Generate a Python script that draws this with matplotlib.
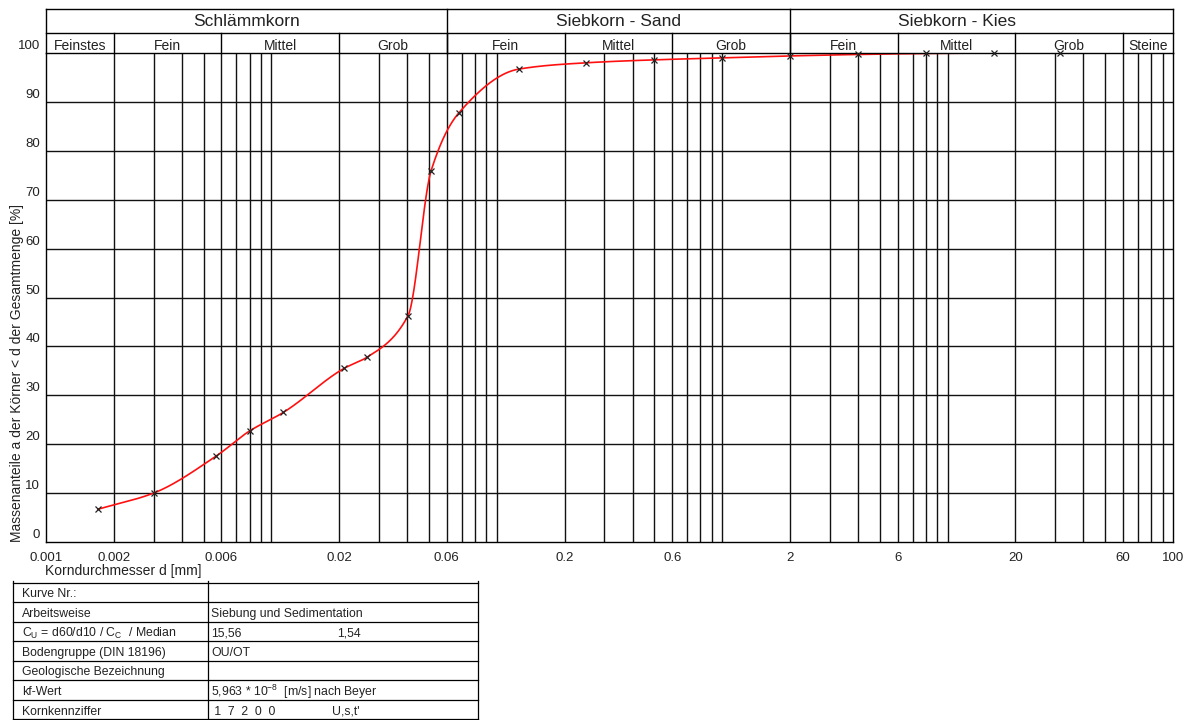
import numpy as np
import matplotlib
matplotlib.use("Agg")
import matplotlib.pyplot as plt
from matplotlib.ticker import NullLocator
from matplotlib.transforms import ScaledTranslation

plt.rcParams["font.family"] = ["Liberation Sans", "DejaVu Sans"]
plt.rcParams["mathtext.default"] = "regular"

# --- grain size distribution (sieve + sedimentation) ---
grain_mm = [0.0017, 0.0030, 0.0057, 0.0080, 0.0113, 0.0210, 0.0266, 0.0404,
            0.0511, 0.068, 0.125, 0.25, 0.5, 1.0, 2.0, 4.0, 8.0, 16.0, 31.5]
passing_pct = [6.7, 10.0, 17.6, 22.7, 26.5, 35.5, 37.8, 46.3,
               75.9, 87.8, 96.7, 98.0, 98.6, 99.0, 99.4, 99.7, 99.9, 100.0, 100.0]

x_ticks = [0.001, 0.002, 0.006, 0.02, 0.06, 0.2, 0.6, 2, 6, 20, 60, 100]
x_tick_labels = ["0.001", "0.002", "0.006", "0.02", "0.06", "0.2", "0.6",
                 "2", "6", "20", "60", "100"]
y_ticks = [0, 10, 20, 30, 40, 50, 60, 70, 80, 90, 100]

# header classification (DIN 4022)
main_groups = ["Schlämmkorn", "Siebkorn - Sand", "Siebkorn - Kies"]
main_bounds = [(0.001, 0.06), (0.06, 2), (2, 60)]
main_box_right = [0.06, 2, 100]
sub_groups = ["Feinstes", "Fein", "Mittel", "Grob", "Fein", "Mittel", "Grob",
              "Fein", "Mittel", "Grob", "Steine"]
sub_bounds = [0.001, 0.002, 0.006, 0.02, 0.06, 0.2, 0.6, 2, 6, 20, 60, 100]

# info table
table_keys = ["Kurve Nr.:", "Arbeitsweise",
              "C$_{U}$ = d60/d10 / C$_{C}$  / Median",
              "Bodengruppe (DIN 18196)", "Geologische Bezeichnung",
              "kf-Wert", "Kornkennziffer"]
table_values = ["", "Siebung und Sedimentation", "15,56", "OU/OT", "",
                "5,963 * 10$^{-8}$  [m/s] nach Beyer", " 1  7  2  0  0"]
table_extra = {2: "1,54", 6: "U,s,t'"}


def pchip(x, y, xs):
    x = np.asarray(x, float)
    y = np.asarray(y, float)
    h = np.diff(x)
    d = np.diff(y) / h
    n = len(x)
    m = np.zeros(n)
    for k in range(1, n - 1):
        if d[k - 1] * d[k] > 0:
            w1 = 2 * h[k] + h[k - 1]
            w2 = h[k] + 2 * h[k - 1]
            m[k] = (w1 + w2) / (w1 / d[k - 1] + w2 / d[k])
    m[0] = d[0]
    m[-1] = d[-1]
    idx = np.clip(np.searchsorted(x, xs) - 1, 0, n - 2)
    t = (xs - x[idx]) / h[idx]
    h00 = 2 * t**3 - 3 * t**2 + 1
    h10 = t**3 - 2 * t**2 + t
    h01 = -2 * t**3 + 3 * t**2
    h11 = t**3 - t**2
    return (h00 * y[idx] + h10 * h[idx] * m[idx] + h01 * y[idx + 1]
            + h11 * h[idx] * m[idx + 1])


W, H = 1193, 720
L, R, T, B = 46, 1173, 53, 542
HT = 9
fig = plt.figure(figsize=(W / 100, H / 100), dpi=100)

ax = fig.add_axes([L / W, (H - B) / H, (R - L) / W, (B - T) / H])
ax.set_xscale("log")
ax.set_xlim(0.001, 100)
ax.set_ylim(0, 100)

# log grid
for dec in [0.001, 0.01, 0.1, 1, 10]:
    for k in range(2, 11):
        v = dec * k
        if v < 100:
            ax.axvline(v, color="#111111", lw=1.0, zorder=1)
for yv in y_ticks[1:-1]:
    ax.axhline(yv, color="#111111", lw=1.0, zorder=1)

for s in ax.spines.values():
    s.set_linewidth(1.0)
    s.set_zorder(4)

lx = np.log10(grain_mm)
xs = np.linspace(lx[0], lx[-1], 1200)
ys = np.clip(pchip(lx, passing_pct, xs), 0, 100)
ax.plot(10 ** xs, ys, color="#ff1010", lw=1.2, zorder=2.2)
ax.plot(grain_mm, passing_pct, ls="none", marker="x", ms=4.5, mew=0.9,
        color="#222222", zorder=5, clip_on=False)

ax.xaxis.set_minor_locator(NullLocator())
ax.set_xticks(x_ticks, labels=x_tick_labels, fontsize=9.5, color="#222222")
ax.tick_params(axis="x", length=0, pad=7)
ax.set_yticks([])

ytrans = ax.get_yaxis_transform() + ScaledTranslation(-6 / 100, 7 / 100,
                                                        fig.dpi_scale_trans)
for yv in y_ticks:
    ax.text(0, yv, str(yv), transform=ytrans, ha="right", va="center",
            fontsize=9.5, color="#222222")

fig.text(L / W - 0.001, 1 - 571 / H, "Korndurchmesser d [mm]", ha="left",
         va="center", fontsize=10, color="#222222")
fig.text(17 / W, (H - B) / H, "Massenanteile a der Körner < d der Gesamtmenge [%]",
         rotation=90, ha="center", va="bottom", fontsize=10, color="#222222")

# header boxes
hdr = fig.add_axes([L / W, (H - T) / H, (R - L) / W, (T - HT) / H])
hdr.set_xscale("log")
hdr.set_xlim(0.001, 100)
hdr.set_ylim(0, 1)
hdr.axis("off")
split = 20 / 44
kw = dict(color="black", lw=1.0, clip_on=False)
hdr.plot([0.001, 100], [1, 1], **kw)
hdr.plot([0.001, 100], [split, split], **kw)
hdr.plot([0.001, 0.001], [0, 1], **kw)
hdr.plot([100, 100], [0, 1], **kw)
for xr in main_box_right[:-1]:
    hdr.plot([xr, xr], [0, 1], **kw)
for xb in sub_bounds[1:-1]:
    hdr.plot([xb, xb], [0, split], **kw)
for name, (a, b) in zip(main_groups, main_bounds):
    hdr.text(np.sqrt(a * b), (T - 21.5) / (T - HT), name, ha="center",
             va="center", fontsize=12.5, color="#222222")
for i, name in enumerate(sub_groups):
    a, b = sub_bounds[i], sub_bounds[i + 1]
    hdr.text(np.sqrt(a * b), (T - 45.5) / (T - HT), name, ha="center",
             va="center", fontsize=10, color="#222222")

# info table below the chart
tab = fig.add_axes([0, 0, 1, 1], zorder=-1)
tab.set_xlim(0, W)
tab.set_ylim(H, 0)
tab.axis("off")
row_h = 19.55
top = 582.5
n_rows = len(table_keys)
for i in range(n_rows + 1):
    yy = top + i * row_h
    tab.plot([13, 478], [yy, yy], color="black", lw=0.9)
for xx in [13, 208, 478]:
    tab.plot([xx, xx], [top - 2, H], color="black", lw=0.9)
for i, (k, v) in enumerate(zip(table_keys, table_values)):
    yc = top + (i + 0.5) * row_h + 2
    tab.text(22, yc, k, ha="left", va="center", fontsize=8.8, color="#222222")
    tab.text(211, yc, v, ha="left", va="center", fontsize=8.8, color="#222222")
    if i in table_extra:
        xe = 337 if i == 2 else 332
        tab.text(xe, yc, table_extra[i], ha="left", va="center", fontsize=8.8,
                 color="#222222")

fig.savefig("out.png", dpi=100, facecolor="white")
